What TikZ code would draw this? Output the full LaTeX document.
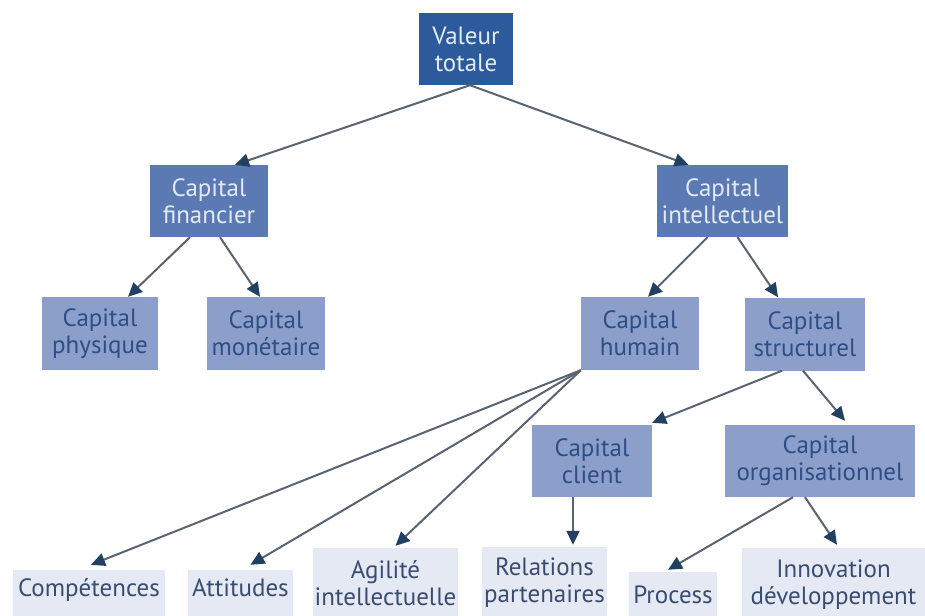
\documentclass[tikz,border=0pt]{standalone}
\usepackage{fontspec}
\setmainfont{PT Sans}
\usetikzlibrary{arrows.meta}

\definecolor{navyfill}{HTML}{2C5A9A}
\definecolor{midfill}{HTML}{5B7AB4}
\definecolor{lightfill}{HTML}{8C9FCB}
\definecolor{leaffill}{HTML}{E5E9F3}
\definecolor{paletext}{HTML}{E2EAF6}
\definecolor{deeptext}{HTML}{2E4E86}
\definecolor{leaftext}{HTML}{3A4C70}
\definecolor{linkgray}{HTML}{5A6470}
\definecolor{headnavy}{HTML}{22405F}

\begin{document}
\begin{tikzpicture}[x=1pt,y=-1pt,
  box/.style={rectangle, inner sep=0pt, align=center,
    font=\fontsize{25}{27}\selectfont},
  rootbox/.style={box, fill=navyfill, text=paletext},
  midbox/.style={box, fill=midfill, text=paletext},
  lowbox/.style={box, fill=lightfill, text=deeptext, minimum height=73pt},
  leafbox/.style={box, fill=leaffill, text=leaftext},
  flatleaf/.style={leafbox, text height=18pt, text depth=22pt,
    inner ysep=8pt, anchor=base},
  linkarrow/.style={draw=linkgray, line width=2pt,
    -{Triangle[length=14pt,width=13pt,color=headnavy]}}]

\useasboundingbox (0,0) rectangle (925,615);
\clip (0,0) rectangle (925,615);

% level 0 and 1
\node[rootbox, minimum width=94pt, minimum height=72pt] (val) at (466,49) {Valeur\\totale};
\node[midbox, minimum width=118pt, minimum height=72pt] (fin) at (209,201) {Capital\\financier};
\node[midbox, minimum width=131pt, minimum height=72pt] (int) at (722.5,201) {Capital\\intellectuel};

% level 2
\node[lowbox, minimum width=116pt] (phy) at (100,333.5) {Capital\\physique};
\node[lowbox, minimum width=118pt] (mon) at (266,333.5) {Capital\\monétaire};
\node[lowbox, minimum width=118pt] (hum) at (640,333.5) {Capital\\humain};
\node[lowbox, minimum width=120pt] (str) at (805,334) {Capital\\structurel};

% level 3
\node[lowbox, minimum width=120pt, minimum height=72pt] (cli) at (592,461) {Capital\\client};
\node[lowbox, minimum width=190pt, minimum height=72pt] (org) at (820,461) {Capital\\organisationnel};

% leaves
\node[flatleaf, minimum width=152pt] (cmp) at (89,596) {Compétences};
\node[flatleaf, minimum width=105pt] (att) at (240.5,596) {Attitudes};
\node[leafbox, minimum width=145pt, minimum height=70pt] (agi) at (385.5,583) {Agilité\\intellectuelle};
\node[leafbox, minimum width=125pt, minimum height=72pt] (rel) at (544.5,583) {Relations\\partenaires};
\node[leafbox, minimum width=88pt, minimum height=46pt] (pro) at (673,595) {Process};
\node[leafbox, minimum width=183pt, minimum height=74pt] (inn) at (833.5,585) {Innovation\\développement};

% connectors
\draw[linkarrow] ([xshift=4pt]val.south) -- ([xshift=26pt]fin.north);
\draw[linkarrow] ([xshift=4pt]val.south) -- ([xshift=-34pt]int.north);
\draw[linkarrow] ([xshift=-19pt]fin.south) -- ([xshift=28pt]phy.north);
\draw[linkarrow] ([xshift=11pt]fin.south) -- ([xshift=-6pt]mon.north);
\draw[linkarrow] ([xshift=-15pt]int.south) -- ([xshift=8pt]hum.north);
\draw[linkarrow] ([xshift=15pt]int.south) -- ([xshift=-27pt]str.north);
\draw[linkarrow] (hum.south west) -- ([xshift=2pt,yshift=5pt]cmp.north);
\draw[linkarrow] (hum.south west) -- ([xshift=10pt,yshift=5pt]att.north);
\draw[linkarrow] (hum.south west) -- ([xshift=10pt,yshift=2pt]agi.north);
\draw[linkarrow] ([xshift=-23pt]str.south) -- ([yshift=2pt]cli.north east);
\draw[linkarrow] ([xshift=-2pt]str.south) -- ([xshift=25pt,yshift=4pt]org.north);
\draw[linkarrow] ([xshift=-19pt]cli.south) -- ([xshift=28.5pt,yshift=2pt]rel.north);
\draw[linkarrow] ([xshift=-27pt]org.south) -- ([xshift=-5pt,yshift=2pt]pro.north);
\draw[linkarrow] ([xshift=-15pt]org.south) -- ([xshift=3.5pt,yshift=3pt]inn.north);
\end{tikzpicture}
\end{document}
